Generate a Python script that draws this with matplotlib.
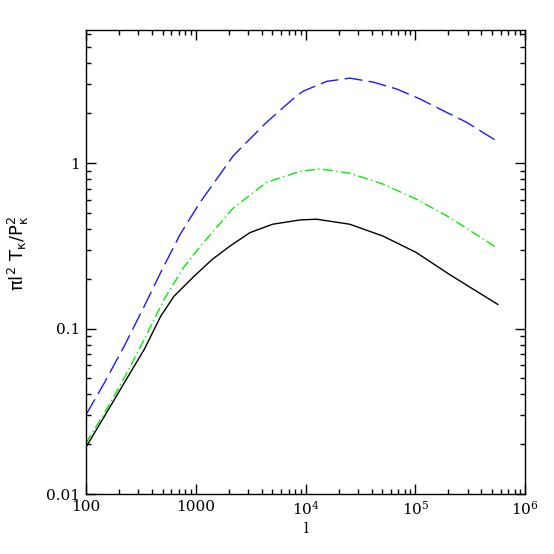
import numpy as np
import matplotlib.pyplot as plt
from matplotlib.ticker import FixedLocator, LogLocator, NullFormatter

plt.rcParams['mathtext.fontset'] = 'dejavuserif'

# values (log-log)
l_black = [100, 147, 223, 339, 481, 635, 966, 1416, 2051, 3119, 5012, 8872, 12590,
           25290, 50820, 102100, 205100, 563600]
y_black = [0.0192, 0.0294, 0.0469, 0.0746, 0.119, 0.157, 0.207, 0.262, 0.315, 0.380,
           0.427, 0.453, 0.458, 0.427, 0.362, 0.288, 0.212, 0.140]

l_green = [100, 147, 223, 339, 515, 783, 1094, 2198, 4416, 8872, 13490, 25290,
           50820, 102100, 205100, 563600]
y_green = [0.0203, 0.0308, 0.0502, 0.0857, 0.150, 0.236, 0.312, 0.535, 0.764, 0.891,
           0.920, 0.869, 0.746, 0.605, 0.469, 0.305]

l_blue = [100, 147, 223, 339, 481, 720, 1094, 2198, 4416, 7709, 9506, 15520, 25290,
          41210, 67140, 109400, 178200, 291100, 563600]
y_blue = [0.0301, 0.0469, 0.0782, 0.136, 0.219, 0.370, 0.578, 1.107, 1.762, 2.443,
          2.716, 3.112, 3.258, 3.083, 2.805, 2.443, 2.075, 1.766, 1.346]

xticks = [100, 1000, 1e4, 1e5, 1e6]
xticklabels = ['100', '1000', r'$10^4$', r'$10^5$', r'$10^6$']
yticks = [0.01, 0.1, 1]
yticklabels = ['0.01', '0.1', '1']

fig = plt.figure(figsize=(5.54, 5.54), dpi=100)
ax = fig.add_axes([0.155, 0.108, 0.793, 0.838])

ax.plot(l_black, y_black, color='black', lw=1.0)
ax.plot(l_green, y_green, color='#00ee00', lw=1.0, dashes=(7, 2.5, 1, 2.5))
ax.plot(l_blue, y_blue, color='#1a1aff', lw=1.0, dashes=(13, 4.5))

ax.set_xscale('log')
ax.set_yscale('log')
ax.set_xlim(100, 1e6)
ax.set_ylim(0.01, 6.37)

ax.xaxis.set_major_locator(FixedLocator(xticks))
ax.set_xticklabels(xticklabels, fontfamily='DejaVu Serif', fontsize=11)
ax.yaxis.set_major_locator(FixedLocator(yticks))
ax.set_yticklabels(yticklabels, fontfamily='DejaVu Serif', fontsize=11)
ax.xaxis.set_minor_locator(LogLocator(base=10, subs=np.arange(2, 10)))
ax.yaxis.set_minor_locator(LogLocator(base=10, subs=np.arange(2, 10)))
ax.xaxis.set_minor_formatter(NullFormatter())
ax.yaxis.set_minor_formatter(NullFormatter())

ax.tick_params(which='both', direction='in', top=True, right=True, width=1)
ax.tick_params(which='major', length=7.5, pad=4)
ax.tick_params(which='minor', length=3.8)
for s in ax.spines.values():
    s.set_linewidth(1)

ax.set_xlabel('l', fontfamily='DejaVu Serif', fontsize=11, labelpad=3)
ax.set_ylabel(r'$\mathsf{\pi l^2\ T_\kappa/P_\kappa^2}$', fontsize=13, labelpad=4)
ax.yaxis.set_label_coords(-0.125, 0.52)

fig.savefig('out.png', dpi=100)
